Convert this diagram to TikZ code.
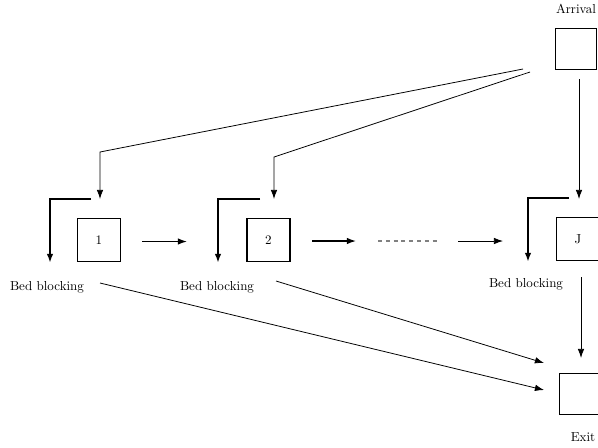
\documentclass[tikz,border=0pt]{standalone}
\usetikzlibrary{arrows.meta}
\tikzset{
  station/.style={draw,line width=1.4pt,minimum size=33pt,inner sep=0pt},
  pool/.style={draw,semithick,minimum size=31pt,inner sep=0pt},
  blocked/.style={line width=1.4pt,-{Latex[length=7pt,width=5pt]}},
  flow/.style={semithick,-{Latex[length=7pt,width=5pt]}}
}
\begin{document}
\begin{tikzpicture}[x=0.768pt,y=-0.768pt]
  \useasboundingbox (0,0) rectangle (598,447);
  % stations
  \node[station] (s1) at (99,240) {1};
  \node[station] (s2) at (268.5,240) {2};
  \node[station] (sJ) at (578,239) {J};
  \node[pool] (arr) at (576,49) {};
  \node (arrlab) at (576,9) {Arrival};
  \node[pool] (ext) at (580,394) {};
  \node (extlab) at (583,437) {Exit};
  \node (bb1) at (47,287) {Bed blocking};
  \node (bb2) at (217,287) {Bed blocking};
  \node (bbJ) at (526,284) {Bed blocking};
  % arrivals
  \coordinate (a1) at (523,69);
  \coordinate (a2) at (530,72);
  \draw[flow] (a1) -- (100,152) -- (100,199);
  \draw[flow] (a2) -- (274,157) -- (274,199);
  \draw[flow] (579,79) -- (579,199);
  % bed blocking
  \draw[blocked] (91,199) -- (50,199) -- (50,263);
  \draw[blocked] (260,199) -- (218,199) -- (218,263);
  \draw[blocked] (569,198) -- (528,198) -- (528,262);
  % between stations
  \draw[line width=1pt,-{Latex[length=7pt,width=5pt]}] (142,241.5) -- (187,241.5);
  \draw[line width=1pt,-{Latex[length=7pt,width=5pt]}] (312,241) -- (356,241);
  \draw[thick,dashed,gray] (378,241) -- (437,241);
  \draw[flow] (458,241) -- (503,241);
  % exits
  \draw[flow] (100,283) -- (544,390);
  \draw[flow] (276,281) -- (544,363);
  \draw[flow] (581,277) -- (581,358);
\end{tikzpicture}
\end{document}
